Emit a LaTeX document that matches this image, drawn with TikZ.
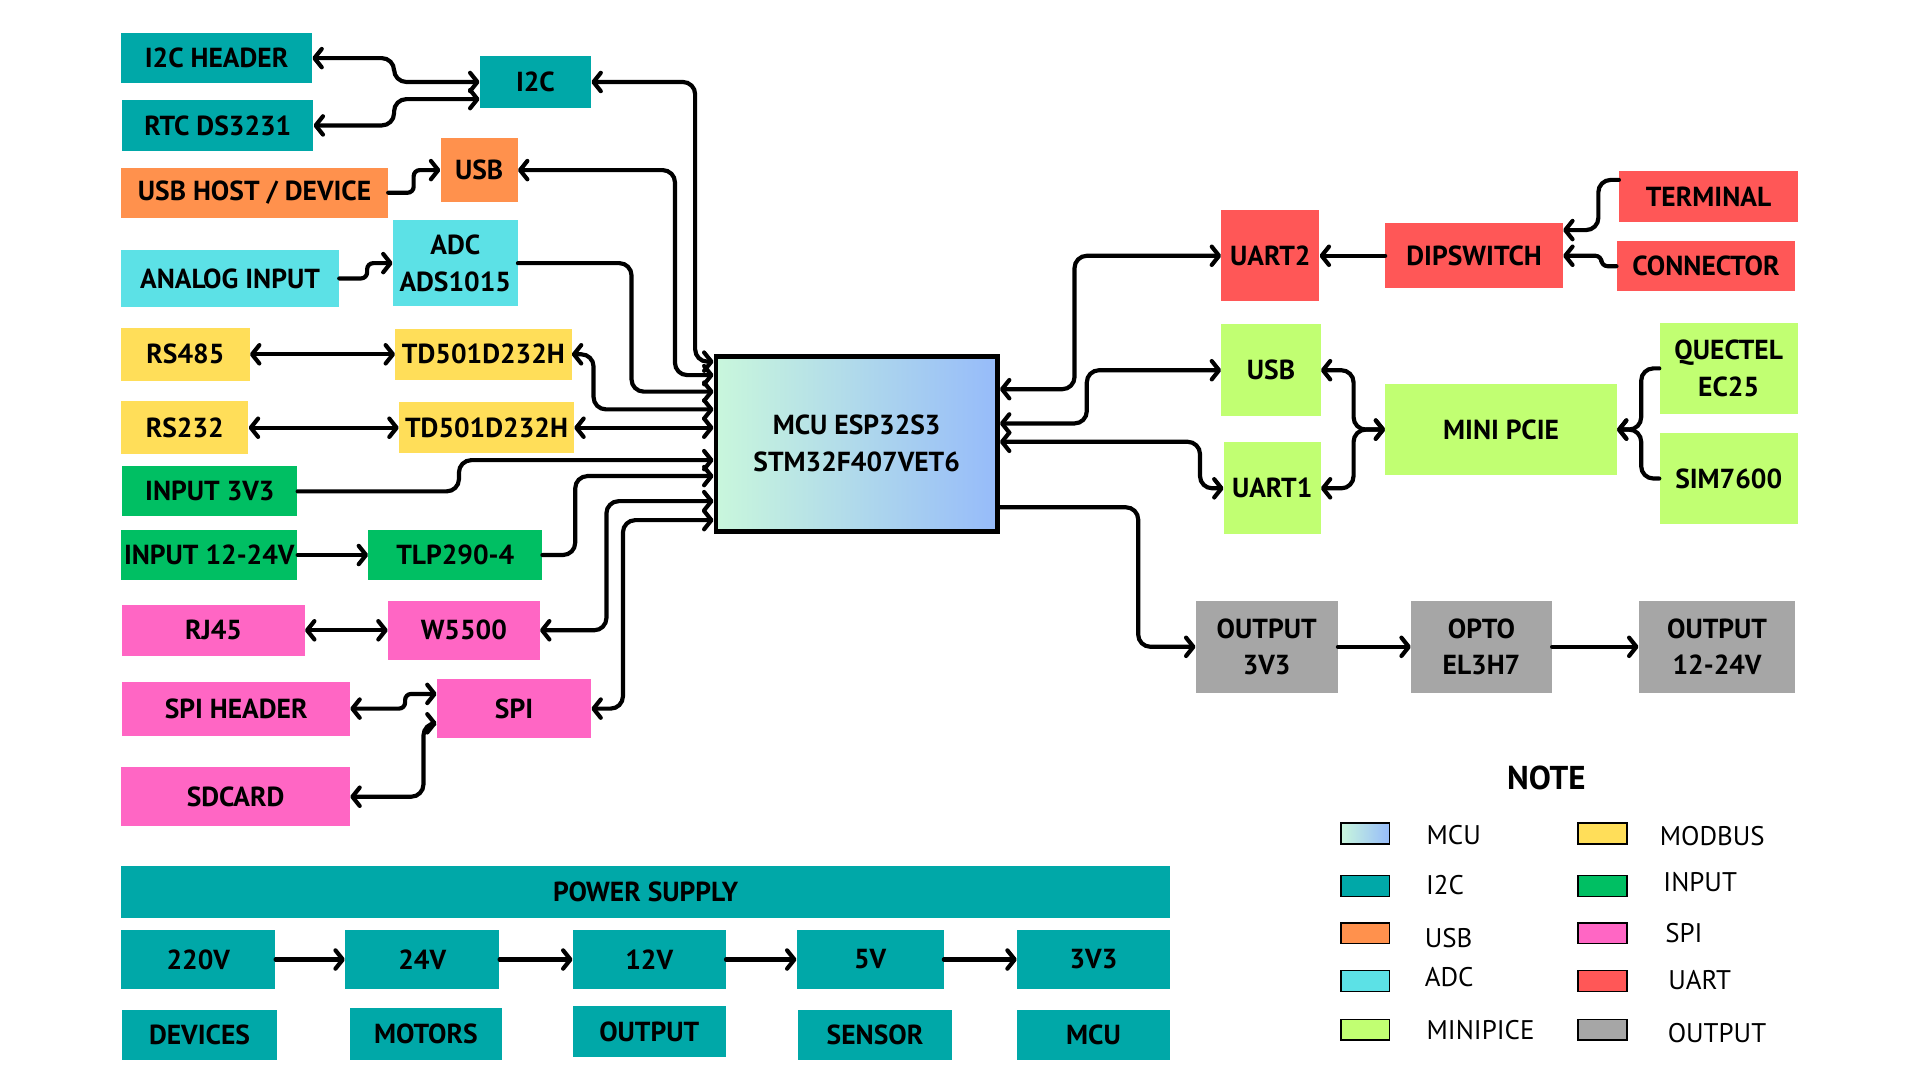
\documentclass[tikz,border=0pt]{standalone}
\usepackage{fontspec}
\setmainfont{PT Sans}
\usetikzlibrary{arrows.meta}

\definecolor{cI2C}{RGB}{0,168,168}
\definecolor{cUSB}{RGB}{255,145,77}
\definecolor{cADC}{RGB}{92,225,230}
\definecolor{cMOD}{RGB}{255,222,89}
\definecolor{cIN}{RGB}{0,191,99}
\definecolor{cSPI}{RGB}{255,102,196}
\definecolor{cUART}{RGB}{255,87,87}
\definecolor{cPCIE}{RGB}{193,255,114}
\definecolor{cOUT}{RGB}{166,166,166}
\definecolor{mcuL}{RGB}{201,247,220}
\definecolor{mcuR}{RGB}{150,187,250}

\begin{document}
\begin{tikzpicture}[x=1pt,y=-1pt,
		box/.style={inner sep=0pt, align=center, font=\bfseries\fontsize{22.5}{30}\selectfont},
		sz/.style 2 args={minimum width=#1pt, minimum height=#2pt},
		link/.style={line width=3.4pt, rounded corners=10pt, line cap=round},
		tight/.style={rounded corners=5pt},
		swatch/.style={draw=black, line width=1.3pt, minimum width=40pt, minimum height=17pt, inner sep=0pt},
		key/.style={anchor=west, inner sep=0pt, font=\fontsize{22}{26}\selectfont},
		>={Straight Barb[length=6pt,width=15pt,round]}]
	\useasboundingbox (0,0) rectangle (1568,882);

	\node[box, sz={156}{41}, fill=cI2C] (i2chdr) at (177,47.5) {I2C HEADER};
	\node[box, sz={156}{41}, fill=cI2C] (rtc) at (178,102.5) {RTC DS3231};
	\node[box, sz={91}{42}, fill=cI2C] (i2c) at (437.5,67) {I2C};
	\node[box, sz={218}{41}, fill=cUSB] (usbhost) at (208,157.5) {USB HOST / DEVICE};
	\node[box, sz={63}{52}, fill=cUSB] (usb) at (391.5,139) {USB};
	\node[box, sz={178}{47}, fill=cADC] (analog) at (188,227.5) {ANALOG INPUT};
	\node[box, sz={102}{70}, fill=cADC] (adc) at (372,215) {ADC\\ADS1015};
	\node[box, sz={105}{43}, fill=cMOD] (rs485) at (151.5,289.5) {RS485};
	\node[box, sz={144}{42}, fill=cMOD] (td1) at (395,289.5) {TD501D232H};
	\node[box, sz={104}{43}, fill=cMOD] (rs232) at (151,349.5) {RS232};
	\node[box, sz={143}{42}, fill=cMOD] (td2) at (397.5,349.5) {TD501D232H};
	\node[box, sz={143}{41}, fill=cIN] (in33) at (171.5,401.5) {INPUT 3V3};
	\node[box, sz={144}{41}, fill=cIN] (in12) at (171,453.5) {INPUT 12-24V};
	\node[box, sz={142}{41}, fill=cIN] (tlp) at (372,453.5) {TLP290-4};
	\node[box, sz={149}{42}, fill=cSPI] (rj45) at (174.5,515) {RJ45};
	\node[box, sz={124}{48}, fill=cSPI] (w5500) at (379,515) {W5500};
	\node[box, sz={186}{44}, fill=cSPI] (spihdr) at (193,579) {SPI HEADER};
	\node[box, sz={126}{48}, fill=cSPI] (spi) at (420,579) {SPI};
	\node[box, sz={187}{48}, fill=cSPI] (sdcard) at (192.5,651) {SDCARD};

	\node[box, sz={230}{143}, draw=black, line width=4pt, left color=mcuL, right color=mcuR] (mcu) at (700,362.5) {MCU ESP32S3\\STM32F407VET6};

	\node[box, sz={80}{74}, fill=cUART] (uart2) at (1038,209) {UART2};
	\node[box, sz={145}{53}, fill=cUART] (dip) at (1204.5,209) {DIPSWITCH};
	\node[box, sz={146}{41}, fill=cUART] (term) at (1396,160.5) {TERMINAL};
	\node[box, sz={146}{41}, fill=cUART] (conn) at (1394,217.5) {CONNECTOR};
	\node[box, sz={81}{75}, fill=cPCIE] (usbg) at (1038.5,302.5) {USB};
	\node[box, sz={79}{75}, fill=cPCIE] (uart1) at (1039.5,399) {UART1};
	\node[box, sz={189}{74}, fill=cPCIE] (pcie) at (1226.5,351) {MINI PCIE};
	\node[box, sz={113}{74}, fill=cPCIE] (quectel) at (1412.5,301) {QUECTEL\\EC25};
	\node[box, sz={113}{74}, fill=cPCIE] (sim) at (1412.5,391) {SIM7600};
	\node[box, sz={116}{75}, fill=cOUT] (out33) at (1035,528.5) {OUTPUT\\3V3};
	\node[box, sz={115}{75}, fill=cOUT] (opto) at (1210.5,528.5) {OPTO\\EL3H7};
	\node[box, sz={128}{75}, fill=cOUT] (out12) at (1403,528.5) {OUTPUT\\12-24V};

	\node[box, sz={857}{42}, fill=cI2C] (psu) at (527.5,729) {POWER SUPPLY};
	\node[box, sz={126}{48}, fill=cI2C] (p220) at (162,784) {220V};
	\node[box, sz={126}{48}, fill=cI2C] (p24) at (345,784) {24V};
	\node[box, sz={125}{48}, fill=cI2C] (p12) at (530.5,784) {12V};
	\node[box, sz={120}{48}, fill=cI2C] (p5) at (711,784) {5V};
	\node[box, sz={125}{48}, fill=cI2C] (p33) at (893.5,784) {3V3};
	\node[box, sz={126}{41}, fill=cI2C] (dev) at (163,845.5) {DEVICES};
	\node[box, sz={124}{42}, fill=cI2C] (mot) at (348,845) {MOTORS};
	\node[box, sz={125}{42}, fill=cI2C] (outp) at (530.5,843) {OUTPUT};
	\node[box, sz={126}{41}, fill=cI2C] (sens) at (715,845.5) {SENSOR};
	\node[box, sz={125}{41}, fill=cI2C] (mcup) at (893.5,845.5) {MCU};

	\draw[link,<->] (i2chdr.east) -| (322,67) -- (i2c.west);
	\draw[link,<->] (rtc.east) -| (322,81) -- (i2c.west |- 0,81);
	\draw[link,tight,->] (usbhost.east) -| (338,139) -- (usb.west);
	\draw[link,tight,->] (analog.east) -| (300,215) -- (adc.west);
	\draw[link,<->] (i2c.east) -| (568,295.5) -- (mcu.west |- 0,295.5);
	\draw[link,<->] (usb.east) -| (551.5,306.5) -- (mcu.west |- 0,306.5);
	\draw[link,->] (adc.east) -| (516,320) -- (mcu.west |- 0,320);
	\draw[link,<->] (rs485.east) -- (td1.west);
	\draw[link,<->] (td1.east) -| (485,334.5) -- (mcu.west |- 0,334.5);
	\draw[link,<->] (rs232.east) -- (td2.west);
	\draw[link,<->] (td2.east) -- (mcu.west |- td2.east);
	\draw[link,->] (in33.east) -| (375,376) -- (mcu.west |- 0,376);
	\draw[link,->] (in12.east) -- (tlp.west);
	\draw[link,->] (tlp.east) -| (470,389) -- (mcu.west |- 0,389);
	\draw[link,<->] (rj45.east) -- (w5500.west);
	\draw[link,<->] (w5500.east) -| (495.5,409.5) -- (mcu.west |- 0,409.5);
	\draw[link,<->] (spi.east) -| (509,425) -- (mcu.west |- 0,425);
	\draw[link,tight,<->] (spihdr.east) -| (331,567) -- (spi.west |- 0,567);
	\draw[link,<->] (sdcard.east) -| (346,591) -- (spi.west |- 0,591);

	\draw[link,<->] (mcu.east |- 0,318) -| (878,209) -- (uart2.west);
	\draw[link,<->] (mcu.east |- 0,346) -| (888,302.5) -- (usbg.west);
	\draw[link,<->] (mcu.east |- 0,361) -| (980.5,399) -- (uart1.west);
	\draw[link,->] (mcu.east |- 0,414.5) -| (930,528.5) -- (out33.west);
	\draw[link,->] (dip.west) -- (uart2.east);
	\draw[link,->] (term.west |- 0,147) -| (1306,188) -- (dip.east |- 0,188);
	\draw[link,tight,->] (conn.west) -| (1308.5,209) -- (dip.east);
	\draw[link,<->] (usbg.east) -| (1106,351) -- (pcie.west);
	\draw[link,<->] (uart1.east) -| (1106,351) -- (pcie.west);
	\draw[link,->] (quectel.west) -| (1341,351) -- (pcie.east);
	\draw[link,->] (sim.west) -| (1341,351) -- (pcie.east);
	\draw[link,->] (out33.east) -- (opto.west);
	\draw[link,->] (opto.east) -- (out12.west);

	\draw[link,->] (p220.east) -- (p24.west);
	\draw[link,->] (p24.east) -- (p12.west);
	\draw[link,->] (p12.east) -- (p5.west);
	\draw[link,->] (p5.east) -- (p33.west);

	\node[font=\bfseries\fontsize{27}{30}\selectfont] (note) at (1263.5,635.5) {NOTE};
	\node[swatch, left color=mcuL, right color=mcuR] (sw1) at (1115.5,681) {};
	\node[swatch, fill=cI2C] (sw2) at (1115.5,724) {};
	\node[swatch, fill=cUSB] (sw3) at (1115.5,762.5) {};
	\node[swatch, fill=cADC] (sw4) at (1115.5,801.5) {};
	\node[swatch, fill=cPCIE] (sw5) at (1115.5,841.5) {};
	\node[swatch, fill=cMOD] (sw6) at (1309.5,681) {};
	\node[swatch, fill=cIN] (sw7) at (1309.5,724) {};
	\node[swatch, fill=cSPI] (sw8) at (1309.5,762.5) {};
	\node[swatch, fill=cUART] (sw9) at (1309.5,801.5) {};
	\node[swatch, fill=cOUT] (sw10) at (1309.5,841.5) {};
	\node[key] (k1) at (1165.5,682.5) {MCU};
	\node[key] (k2) at (1165,723.5) {I2C};
	\node[key] (k3) at (1164,766.5) {USB};
	\node[key] (k4) at (1164,798.5) {ADC};
	\node[key] (k5) at (1165.5,841.5) {MINIPICE};
	\node[key] (k6) at (1356,683) {MODBUS};
	\node[key] (k7) at (1359,720.5) {INPUT};
	\node[key] (k8) at (1360.5,762.5) {SPI};
	\node[key] (k9) at (1363,800.5) {UART};
	\node[key] (k10) at (1362.5,844) {OUTPUT};
\end{tikzpicture}
\end{document}
